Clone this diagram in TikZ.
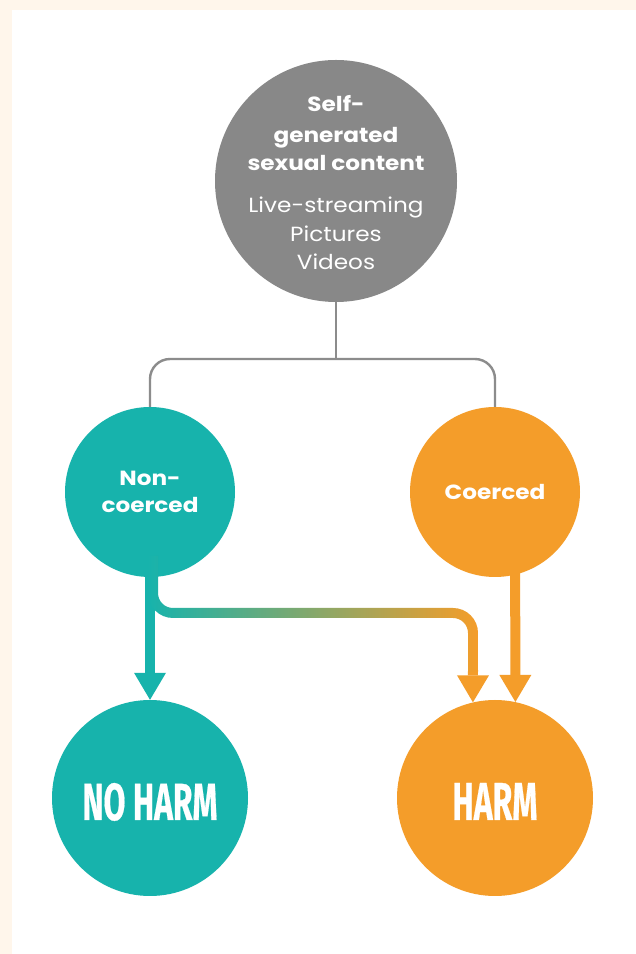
\documentclass[tikz,border=0pt]{standalone}
\usepackage{fontspec}
\usepackage{graphicx}
\setmainfont{Poppins}[FakeStretch=1.13]
\newfontfamily\harmfont{Fira Sans}[FakeBold=0.6]
\usetikzlibrary{arrows.meta,backgrounds,calc}
\definecolor{cream}{RGB}{255,246,235}
\definecolor{tealc}{RGB}{23,179,172}
\definecolor{orangec}{RGB}{244,157,42}
\definecolor{midc}{RGB}{170,172,108}
\definecolor{grayc}{RGB}{136,136,136}
\definecolor{linec}{RGB}{140,140,140}
\tikzset{
  bubble/.style={circle, inner sep=0pt, text=white, align=center},
  ttxt/.style={anchor=base, text=white, inner sep=0pt, font=\fontsize{20.5}{24}\selectfont},
  ttxtb/.style={ttxt, font=\fontsize{20.5}{24}\selectfont\bfseries},
  ctxt/.style={font=\fontsize{20.5}{26.5}\selectfont\bfseries},
  htxt/.style={anchor=base, text=white, inner sep=0pt},
  joinline/.style={draw=linec, line width=2.4pt, rounded corners=20pt},
  tealarrow/.style={draw=tealc, line width=10pt, -{Triangle[width=32pt,length=27pt,line width=0pt]}},
  orangearrow/.style={draw=orangec, line width=10pt, -{Triangle[width=32pt,length=27pt,line width=0pt]}}
}
\begin{document}
\begin{tikzpicture}[x=1pt,y=1pt]
\useasboundingbox (0,0) rectangle (636,954);
% nodes
\node[bubble, fill=grayc, minimum size=242pt] (top) at (336,773) {};
\node[ttxtb] (s1) at (336,842) {Self-};
\node[ttxtb] (s2) at (336,811) {generated};
\node[ttxtb] (s3) at (336,783) {sexual content};
\node[ttxt] (s4) at (336,741) {Live-streaming};
\node[ttxt] (s5) at (336,712) {Pictures};
\node[ttxt] (s6) at (336,684) {Videos};
\node[bubble, fill=tealc, minimum size=170pt, ctxt] (noncoerced) at (150,462) {Non-\\coerced};
\node[bubble, fill=orangec, minimum size=170pt, ctxt] (coerced) at (495,462) {Coerced};
\node[bubble, fill=tealc, minimum size=196pt] (noharm) at (150,156) {};
\node[bubble, fill=orangec, minimum size=196pt] (harm) at (495,156) {};
\node[htxt] (noharmtxt) at (150,134) {\resizebox{135pt}{37pt}{\harmfont\bfseries NO HARM}};
\node[htxt] (harmtxt) at (495,134) {\resizebox{85pt}{37pt}{\harmfont\bfseries HARM}};
% gray connector
\coordinate (jn) at (336,595);
\draw[joinline] (top.south) -- (jn);
\draw[joinline] (noncoerced.north) |- (jn) -| (coerced.north);
% gradient connector
\shade[left color=tealc, middle color=midc, right color=orangec]
  (148,398) -- (148,361) arc[start angle=180, end angle=270, radius=25pt]
  -- (453,336) arc[start angle=90, end angle=0, radius=15pt]
  -- (468,282) -- (478,282) -- (478,321)
  arc[start angle=0, end angle=90, radius=25pt]
  -- (173,346) arc[start angle=270, end angle=180, radius=15pt]
  -- (158,398) -- cycle;
\coordinate (gend) at (473,284);
\coordinate (cstart) at ($(coerced.center)+(20,0)$);
\begin{scope}[on background layer]
  \fill[cream] (0,0) rectangle (636,954);
  \fill[white] (12,0) rectangle (636,944);
  \draw[tealarrow] (noncoerced.center) -- (noharm.north);
  \draw[orangearrow] (cstart) -- (harm.78.2);
  \draw[orangearrow] (gend) -- (harm.103);
\end{scope}
\end{tikzpicture}
\end{document}
